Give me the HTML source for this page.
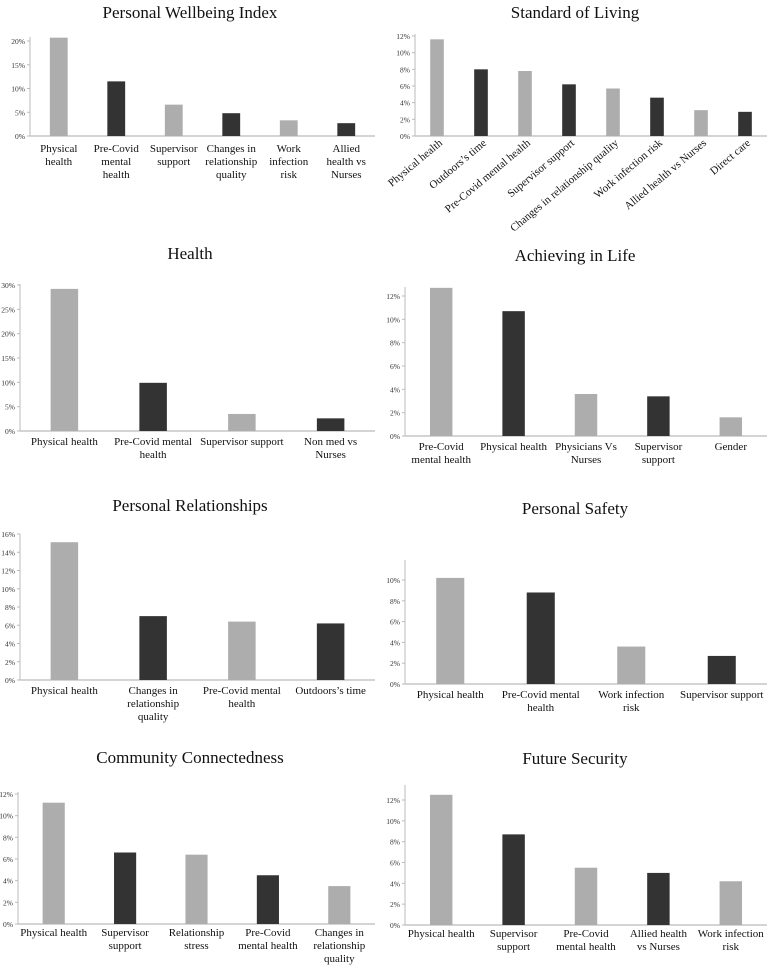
<!DOCTYPE html>
<html><head><meta charset="utf-8"><style>
html,body{margin:0;padding:0;background:#fff;}
svg{display:block;font-family:"Liberation Serif",serif;}
</style></head><body>
<svg id="c" width="767" height="969" viewBox="0 0 767 969" xmlns="http://www.w3.org/2000/svg"></svg>
<script>
const titles = ["Personal Wellbeing Index","Standard of Living","Health","Achieving in Life","Personal Relationships","Personal Safety","Community Connectedness","Future Security"];
const cats1 = [["Physical","health"],["Pre-Covid","mental","health"],["Supervisor","support"],["Changes in","relationship","quality"],["Work","infection","risk"],["Allied","health vs","Nurses"]];
const vals1 = [20.7,11.5,6.6,4.8,3.3,2.7];
const ticks1 = [0,5,10,15,20];
const cats2 = [["Physical health"],["Outdoors’s time"],["Pre-Covid mental health"],["Supervisor support"],["Changes in relationship quality"],["Work infection risk"],["Allied health vs Nurses"],["Direct care"]];
const vals2 = [11.6,8.0,7.8,6.2,5.7,4.6,3.1,2.9];
const ticks2 = [0,2,4,6,8,10,12];
const cats3 = [["Physical health"],["Pre-Covid mental","health"],["Supervisor support"],["Non med vs","Nurses"]];
const vals3 = [29.2,9.9,3.5,2.6];
const ticks3 = [0,5,10,15,20,25,30];
const cats4 = [["Pre-Covid","mental health"],["Physical health"],["Physicians Vs","Nurses"],["Supervisor","support"],["Gender"]];
const vals4 = [12.7,10.7,3.6,3.4,1.6];
const ticks4 = [0,2,4,6,8,10,12];
const cats5 = [["Physical health"],["Changes in","relationship","quality"],["Pre-Covid mental","health"],["Outdoors’s time"]];
const vals5 = [15.1,7.0,6.4,6.2];
const ticks5 = [0,2,4,6,8,10,12,14,16];
const cats6 = [["Physical health"],["Pre-Covid mental","health"],["Work infection","risk"],["Supervisor support"]];
const vals6 = [10.2,8.8,3.6,2.7];
const ticks6 = [0,2,4,6,8,10];
const cats7 = [["Physical health"],["Supervisor","support"],["Relationship","stress"],["Pre-Covid","mental health"],["Changes in","relationship","quality"]];
const vals7 = [11.2,6.6,6.4,4.5,3.5];
const ticks7 = [0,2,4,6,8,10,12];
const cats8 = [["Physical health"],["Supervisor","support"],["Pre-Covid","mental health"],["Allied health","vs Nurses"],["Work infection","risk"]];
const vals8 = [12.5,8.7,5.5,5.0,4.2];
const ticks8 = [0,2,4,6,8,10,12];

const layouts = [
 {cats:cats1,vals:vals1,ticks:ticks1,tx:190,ty:18,x0:30,x1:375,base:136,topY:41,axTop:37,ly:152},
 {cats:cats2,vals:vals2,ticks:ticks2,tx:575,ty:18,x0:415,x1:767,base:136,topY:36,axTop:34,ly:144,rot:true},
 {cats:cats3,vals:vals3,ticks:ticks3,tx:190,ty:259,x0:20,x1:375,base:431,topY:285,axTop:284,ly:445},
 {cats:cats4,vals:vals4,ticks:ticks4,tx:575,ty:261,x0:405,x1:767,base:436,topY:296,axTop:287,ly:450},
 {cats:cats5,vals:vals5,ticks:ticks5,tx:190,ty:511,x0:20,x1:375,base:680,topY:534,axTop:534,ly:694},
 {cats:cats6,vals:vals6,ticks:ticks6,tx:575,ty:514,x0:405,x1:767,base:684,topY:580,axTop:560,ly:698},
 {cats:cats7,vals:vals7,ticks:ticks7,tx:190,ty:763,x0:18,x1:375,base:924,topY:794,axTop:792,ly:936},
 {cats:cats8,vals:vals8,ticks:ticks8,tx:575,ty:764,x0:405,x1:767,base:925,topY:800,axTop:785,ly:937}
];
const NS="http://www.w3.org/2000/svg";
const svg=document.getElementById('c');
function mk(tag,attrs,parent){const e=document.createElementNS(NS,tag);for(const k in attrs)e.setAttribute(k,attrs[k]);parent.appendChild(e);return e;}
layouts.forEach((L,ci)=>{
  const g=mk('g',{},svg);
  
  
  const t=mk('text',{x:L.tx,y:L.ty,'text-anchor':'middle','font-size':'17',fill:'#111'},g);
  t.textContent=titles[ci];
  
  
  const maxT=L.ticks[L.ticks.length-1];
  const y=v=>L.base-(v/maxT)*(L.base-L.topY);
  const ax=mk('line',{x1:L.x0,x2:L.x0,y1:L.axTop,y2:L.base,stroke:'#bbb','stroke-width':1},g);
  
  
  const xa=mk('line',{x1:L.x0,x2:L.x1,y1:L.base,y2:L.base,stroke:'#bbb','stroke-width':1.2},g);
  
  
  L.ticks.forEach(tv=>{
    mk('line',{x1:L.x0-3,x2:L.x0,y1:y(tv),y2:y(tv),stroke:'#bbb'},g);
    const tl=mk('text',{x:L.x0-5,y:y(tv)+3,'text-anchor':'end','font-size':'7.5',fill:'#333'},g);
    tl.textContent=tv+'%';
    
    
  });
  const n=L.cats.length, band=(L.x1-L.x0)/n, bw=band*0.31;
  L.vals.forEach((v,i)=>{
    const cx=L.x0+band*(i+0.5);
    const r=mk('rect',{x:cx-bw/2,y:y(v),width:bw,height:L.base-y(v),fill:i%2?'#333333':'#adadad'},g);
    
    
    const lines=L.cats[i];
    if(L.rot){
      const tx=mk('text',{x:cx+6,y:L.ly,'text-anchor':'end','font-size':'11',fill:'#111',transform:`rotate(-40 ${cx+6} ${L.ly})`},g);
      tx.textContent=lines[0];
      
      
    } else {
      const tx=mk('text',{x:cx,y:L.ly,'text-anchor':'middle','font-size':'11',fill:'#111'},g);
      
      
      lines.forEach((ln,k)=>{const ts=mk('tspan',{x:cx,dy:k?13:0},tx);ts.textContent=ln;});
    }
  });
});
</script>
</body></html>
